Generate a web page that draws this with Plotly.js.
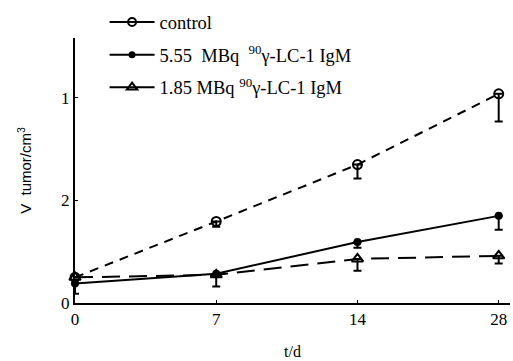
<!DOCTYPE html>
<html><head><meta charset="utf-8">
<script src="https://cdn.plot.ly/plotly-3.0.1.min.js"></script>
<style>html,body{margin:0;padding:0;background:#fff}#chart{width:513px;height:361px}</style>
</head><body><div id="chart"></div>
<script>
const days = ["0", "7", "14", "28"];
const controlV = [0.50, 1.59, 2.70, 4.08];
const controlErr = [0, 0.10, 0.27, 0.54];
const high555V = [0.38, 0.57, 1.19, 1.70];
const high555Err = [0.20, 0.25, 0.11, 0.27];
const low185V = [0.50, 0.55, 0.86, 0.92];
const low185Err = [0, 0, 0.23, 0.15];
const yTickVals = [0, 2, 4];
const yTickText = ["0", "2", "1"];
const names = ["control", "5.55  MBq  <sup>90</sup>γ-LC-1 IgM", "1.85 MBq <sup>90</sup>γ-LC-1 IgM"];

const xi = days.map((d, i) => i);
function errBar(arr) {
  return {type: 'data', symmetric: false, array: arr.map(() => 0), arrayminus: arr,
          color: '#000', thickness: 2, width: 4};
}
const traces = [
  {x: xi, y: controlV, mode: 'lines+markers', showlegend: false, cliponaxis: false,
   line: {color: '#000', width: 2, dash: '9px,7px'},
   marker: {symbol: 'circle-open', size: 9, color: '#000', line: {width: 2}},
   error_y: errBar(controlErr)},
  {x: xi, y: high555V, mode: 'lines+markers', showlegend: false, cliponaxis: false,
   line: {color: '#000', width: 2},
   marker: {symbol: 'circle', size: 8, color: '#000'},
   error_y: errBar(high555Err)},
  {x: xi, y: low185V, mode: 'lines+markers', showlegend: false, cliponaxis: false,
   line: {color: '#000', width: 2, dash: '18px,9px'},
   marker: {symbol: 'triangle-up-open', size: 10, color: '#000', line: {width: 2}},
   error_y: errBar(low185Err)},
  {x: [null], y: [null], mode: 'lines+markers', name: names[0], legendgroup: 'a',
   line: {color: '#000', width: 2},
   marker: {symbol: 'circle-open', size: 8, color: '#000', line: {width: 2}}},
  {x: [null], y: [null], mode: 'lines+markers', name: names[1], legendgroup: 'b',
   line: {color: '#000', width: 2},
   marker: {symbol: 'circle', size: 7, color: '#000'}},
  {x: [null], y: [null], mode: 'lines+markers', name: names[2], legendgroup: 'c',
   line: {color: '#000', width: 2},
   marker: {symbol: 'triangle-up-open', size: 9, color: '#000', line: {width: 2}}}
];
const serif = '"Liberation Serif", "Times New Roman", serif';
const layout = {
  width: 513, height: 361,
  margin: {l: 75, r: 3, t: 33, b: 58},
  paper_bgcolor: '#fff', plot_bgcolor: '#fff',
  font: {family: serif, color: '#000', size: 16},
  showlegend: true,
  legend: {x: 0.068, y: 1.13, xanchor: 'left', yanchor: 'top', bgcolor: 'rgba(0,0,0,0)',
           tracegroupgap: 5.5, font: {family: serif, size: 18.5, color: '#000'}, itemwidth: 45},
  xaxis: {range: [0, 3.08], tickvals: xi, ticktext: days, showgrid: false, zeroline: false,
          showline: true, linecolor: '#000', linewidth: 2, ticks: 'inside', ticklen: 3,
          tickcolor: '#000', tickfont: {family: serif, size: 17, color: '#000'},
          title: {text: 't/d', font: {family: serif, size: 16, color: '#000'}, standoff: 17}},
  yaxis: {range: [0, 5.17], tickvals: yTickVals, ticktext: yTickText, showgrid: false,
          zeroline: false, showline: true, linecolor: '#000', linewidth: 2, ticks: 'inside',
          ticklen: 3, tickcolor: '#000', tickfont: {family: serif, size: 17, color: '#000'},
          title: {text: 'V  tumor/cm<sup>3</sup>', font: {family: '"Liberation Sans", Arial, sans-serif', size: 15, color: '#000'}, standoff: 26}}
};
Plotly.newPlot('chart', traces, layout, {displayModeBar: false, staticPlot: true});
</script></body></html>
